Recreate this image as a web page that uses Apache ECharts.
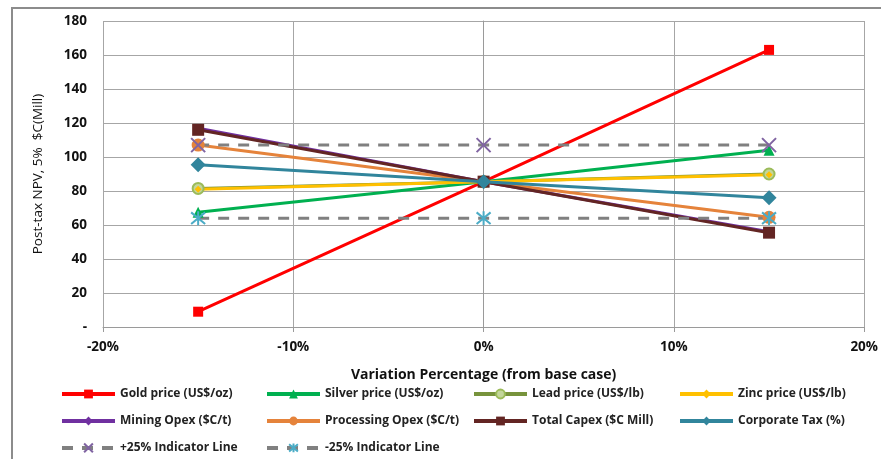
<!DOCTYPE html>
<html>
<head>
<meta charset="utf-8">
<script src="https://cdn.jsdelivr.net/npm/echarts@6/dist/echarts.min.js"></script>
<style>html,body{margin:0;padding:0;background:#fff}#c{width:881px;height:459px}</style>
</head>
<body>
<div id="c"></div>
<script>
// Variation (fraction) at which each sensitivity was evaluated
var variations = [-0.15, 0, 0.15];
// Post-tax NPV, 5% ($C Mill)
var goldPrice = [9, 85.5, 163];
var silverPrice = [67.5, 85.5, 104];
var leadPrice = [81.5, 85.5, 90];
var zincPrice = [81, 85.5, 89.5];
var miningOpex = [117, 85.5, 56];
var processingOpex = [107, 85.5, 64.5];
var totalCapex = [116, 85.5, 55.5];
var corporateTax = [95.5, 85.5, 76];
var plus25Line = [107, 107, 107];
var minus25Line = [64, 64, 64];
var xTicks = [-0.2, -0.1, 0, 0.1, 0.2];
var yTicks = [0, 20, 40, 60, 80, 100, 120, 140, 160, 180];

var seriesNames = ['Gold price (US$/oz)', 'Silver price (US$/oz)', 'Lead price (US$/lb)', 'Zinc price (US$/lb)',
  'Mining Opex ($C/t)', 'Processing Opex ($C/t)', 'Total Capex ($C Mill)', 'Corporate Tax (%)',
  '+25% Indicator Line', '-25% Indicator Line'];

function pts(arr) { return variations.map(function (x, i) { return [x, arr[i]]; }); }

var X_PATH = 'path://M0,0L10,10M10,0L0,10';
var AST_PATH = 'path://M0,0L10,10M10,0L0,10M5,-1L5,11';

function lineSeries(name, data, color, symbol, size, extra) {
  var s = {
    name: name, type: 'line', data: pts(data),
    symbol: symbol, symbolSize: size, showSymbol: true,
    lineStyle: { color: color, width: 3 },
    itemStyle: { color: color },
    emphasis: { disabled: true },
    animation: false
  };
  if (extra) for (var k in extra) s[k] = extra[k];
  return s;
}

var series = [
  lineSeries(seriesNames[0], goldPrice, '#FF0000', 'rect', 10),
  lineSeries(seriesNames[1], silverPrice, '#00B050', 'triangle', 11),
  lineSeries(seriesNames[2], leadPrice, '#77933C', 'circle', 11, { itemStyle: { color: '#C3D69B', borderColor: '#9BBB59', borderWidth: 2 } }),
  lineSeries(seriesNames[3], zincPrice, '#FFC000', 'diamond', 7),
  lineSeries(seriesNames[4], miningOpex, '#7030A0', 'diamond', 8),
  lineSeries(seriesNames[5], processingOpex, '#E5833B', 'circle', 13),
  lineSeries(seriesNames[6], totalCapex, '#632523', 'rect', 12),
  lineSeries(seriesNames[7], corporateTax, '#31859C', 'diamond', 15),
  lineSeries(seriesNames[8], plus25Line, '#808080', X_PATH, 14, {
    lineStyle: { color: '#808080', width: 3, type: [11, 9] },
    itemStyle: { color: 'none', borderColor: '#8064A2', borderWidth: 2 }
  }),
  lineSeries(seriesNames[9], minus25Line, '#808080', AST_PATH, 14, {
    lineStyle: { color: '#808080', width: 3, type: [11, 9] },
    itemStyle: { color: 'none', borderColor: '#4BACC6', borderWidth: 2 }
  })
];

var font = '"Open Sans", "Liberation Sans", sans-serif';
var legendCols = [60, 265, 472, 678];
var legendRowsTop = [388, 415, 441];
var legends = seriesNames.map(function (n, i) {
  return {
    data: [n], left: legendCols[i % 4], top: legendRowsTop[Math.floor(i / 4)],
    itemWidth: 53, itemHeight: 11, itemGap: 0, padding: 0,
    selectedMode: false,
    lineStyle: { width: 4 },
    textStyle: { fontFamily: font, fontSize: 12, fontWeight: 'bold', color: '#222' }
  };
});

var chart = echarts.init(document.getElementById('c'), null, { renderer: 'canvas' });
chart.setOption({
  backgroundColor: '#fff',
  animation: false,
  graphic: [{ type: 'rect', shape: { x: 12, y: 8, width: 900, height: 500 }, style: { fill: 'none', stroke: '#8C8C8C', lineWidth: 2 }, silent: true, z: -1 }],
  grid: { left: 103, right: 10, top: 21, bottom: 132, containLabel: false },
  xAxis: {
    type: 'value', min: xTicks[0], max: xTicks[xTicks.length - 1], interval: 0.1,
    name: 'Variation Percentage (from base case)', nameLocation: 'middle', nameGap: 41,
    nameTextStyle: { fontFamily: font, fontSize: 14, fontWeight: 'bold', color: '#111' },
    axisLine: { lineStyle: { color: '#9A9A9A', width: 1 } },
    axisTick: { show: true, length: 5, lineStyle: { color: '#9A9A9A' } },
    axisLabel: { fontFamily: font, fontSize: 13.5, fontWeight: 'bold', color: '#111', margin: 13,
      formatter: function (v) { return Math.round(v * 100) + '%'; } },
    splitLine: { show: true, lineStyle: { color: '#A6A6A6', width: 1 } }
  },
  yAxis: {
    type: 'value', min: yTicks[0], max: yTicks[yTicks.length - 1], interval: 20,
    name: 'Post-tax NPV, 5%  $C(Mill)', nameLocation: 'middle', nameGap: 58, nameRotate: 90,
    nameTextStyle: { fontFamily: font, fontSize: 13.5, color: '#111' },
    axisLine: { show: true, lineStyle: { color: '#9A9A9A', width: 1 } },
    axisTick: { show: false },
    axisLabel: { fontFamily: font, fontSize: 13.5, fontWeight: 'bold', color: '#111', margin: 16,
      formatter: function (v) { return v === 0 ? '-' : String(v); } },
    splitLine: { show: true, lineStyle: { color: '#A6A6A6', width: 1 } }
  },
  legend: legends,
  series: series
});
</script>
</body>
</html>
